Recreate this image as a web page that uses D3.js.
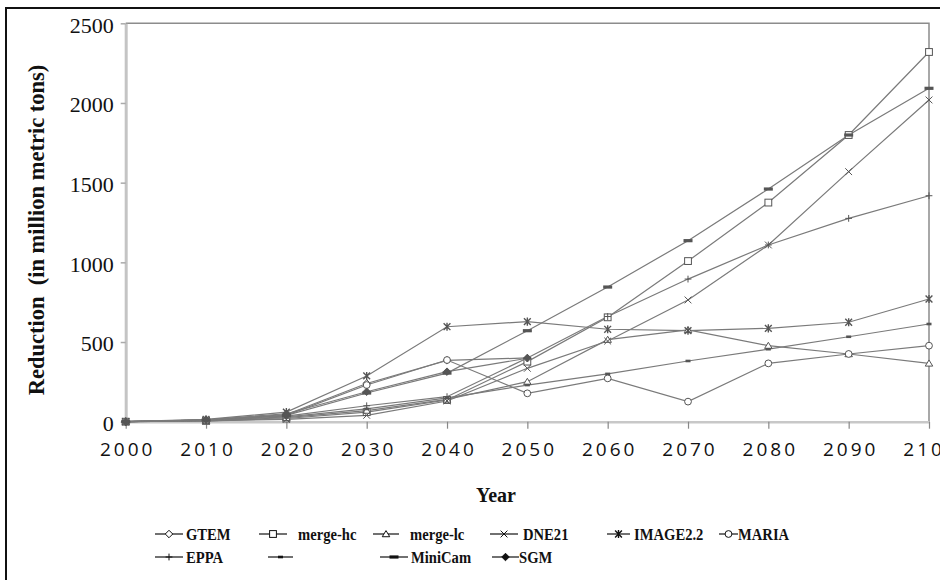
<!DOCTYPE html>
<html>
<head>
<meta charset="utf-8">
<script src="https://cdn.jsdelivr.net/npm/d3@7"></script>
<style>
  body { margin: 0; background: #fff; }
  svg { display: block; }
</style>
</head>
<body>
<div id="chart"></div>
<script>
// Reduction per model (null = no value)
var years = [2000, 2010, 2020, 2030, 2040, 2050, 2060, 2070, 2080, 2090, 2100]
var yTicks = [0, 500, 1000, 1500, 2000, 2500]

var gtem = [0, 10, 45, 240, 385, 400, null, null, null, null, null]
var mergeHc = [0, 5, 20, 60, 136, 377, 655, 1008, 1375, 1799, 2320]
var mergeLc = [0, 5, 25, 70, 140, 251, 515, 576, 477, 425, 366]
var dne21 = [0, 5, 15, 40, 130, 335, 506, 764, 1109, 1569, 2019]
var image22 = [0, 15, 60, 287, 596, 628, 580, 571, 586, 624, 770]
var maria = [0, 10, 40, 230, 387, 178, 272, 126, 366, 425, 477]
var eppa = [0, 10, 35, 100, 157, 400, 660, 895, 1109, 1276, 1418]
var unnamed = [0, 8, 30, 80, 150, 230, 300, 381, 455, 533, 613]
var miniCam = [0, 10, 40, 180, 305, 571, 845, 1136, 1460, 1799, 2092]
var sgm = [0, 12, 50, 188, 314, 398, null, null, null, null, null]

var series = [
  { name: 'GTEM', values: gtem, marker: 'diamond' },
  { name: 'merge-hc', values: mergeHc, marker: 'square' },
  { name: 'merge-lc', values: mergeLc, marker: 'triangle' },
  { name: 'DNE21', values: dne21, marker: 'cross' },
  { name: 'IMAGE2.2', values: image22, marker: 'star' },
  { name: 'MARIA', values: maria, marker: 'circle' },
  { name: 'EPPA', values: eppa, marker: 'plus' },
  { name: '', values: unnamed, marker: 'dot' },
  { name: 'MiniCam', values: miniCam, marker: 'dash' },
  { name: 'SGM', values: sgm, marker: 'filledDiamond' }
]

// legend layout: row, start of the sample line, end of the sample line, start of the label
var legendRow = [0, 0, 0, 0, 0, 0, 1, 1, 1, 1]
var legendLineX = [155, 259, 373, 490, 607, 719, 155, 268, 380, 492]
var legendLineEnd = [183, 287, 399, 518, 630, 738, 183, 293, 408, 519]
var legendTextX = [186, 298, 410, 523, 634, 738, 186, 0, 411, 519]

var width = 940
var height = 580
var plotLeft = 125.7
var plotRight = 929
var plotTop = 23.3
var plotBottom = 421.7

var svg = d3.select('#chart').append('svg')
  .attr('width', width)
  .attr('height', height)

// outer frame (only top and left edges are visible in the scan)
svg.append('path')
  .attr('d', 'M6,580V8H940')
  .attr('fill', 'none')
  .attr('stroke', '#111')
  .attr('stroke-width', 2)

var x = d3.scaleLinear().domain([2000, 2100]).range([plotLeft, plotRight])
var y = d3.scaleLinear().domain([0, 2500]).range([plotBottom, plotTop])

// plot frame top and right
svg.append('path')
  .attr('d', 'M' + x(2000) + ',' + y(2500) + 'H' + x(2100) + 'V' + y(0))
  .attr('fill', 'none')
  .attr('stroke', '#8c8c8c')
  .attr('stroke-width', 1.5)

var yAxis = svg.append('g')
  .attr('transform', 'translate(' + plotLeft + ',0)')
  .call(d3.axisLeft(y).tickValues(yTicks).tickFormat(d3.format('d')).tickSize(5).tickPadding(7).tickSizeOuter(0))
yAxis.select('.domain').attr('stroke', '#c4c4c4').attr('stroke-width', 3)
yAxis.selectAll('.tick line').attr('stroke', '#aaa').attr('stroke-width', 1.5)
yAxis.selectAll('.tick text')
  .attr('fill', '#111')
  .style('font-family', '"Liberation Serif", serif')
  .style('font-size', '22px')
  .attr('dy', '0.4em')

var xAxis = svg.append('g')
  .attr('transform', 'translate(0,' + plotBottom + ')')
  .call(d3.axisBottom(x).tickValues(years).tickFormat(d3.format('d')).tickSize(7).tickPadding(14).tickSizeOuter(0))
xAxis.select('.domain').attr('stroke', '#c8c8c8').attr('stroke-width', 2.5)
xAxis.selectAll('.tick line').attr('stroke', '#888').attr('stroke-width', 1.2)
xAxis.selectAll('.tick text')
  .attr('fill', '#111')
  .attr('dx', '1.5px')
  .style('font-family', '"Open Sans", sans-serif')
  .style('font-size', '19px')
  .style('letter-spacing', '3px')

// axis titles
svg.append('text')
  .attr('transform', 'translate(44,230) rotate(-90)')
  .attr('text-anchor', 'middle')
  .style('font-family', '"Liberation Serif", serif')
  .style('font-weight', 'bold')
  .style('font-size', '22.5px')
  .style('white-space', 'pre')
  .attr('fill', '#111')
  .text('Reduction  (in million metric tons)')

svg.append('text')
  .attr('x', 496)
  .attr('y', 502)
  .attr('text-anchor', 'middle')
  .style('font-family', '"Liberation Serif", serif')
  .style('font-weight', 'bold')
  .style('font-size', '20px')
  .attr('fill', '#111')
  .text('Year')

// marker shapes, centred on 0,0
function drawMarker (g, type, stroke) {
  var s = 3.4
  if (type === 'diamond' || type === 'filledDiamond') {
    g.append('path').attr('d', 'M0,' + -s * 1.1 + 'L' + s * 1.1 + ',0L0,' + s * 1.1 + 'L' + -s * 1.1 + ',0Z')
      .attr('fill', type === 'filledDiamond' ? stroke : '#fff').attr('stroke', stroke)
  } else if (type === 'square') {
    g.append('rect').attr('x', -s).attr('y', -s).attr('width', 2 * s).attr('height', 2 * s)
      .attr('fill', '#fff').attr('stroke', stroke)
  } else if (type === 'triangle') {
    g.append('path').attr('d', 'M0,' + -s + 'L' + s * 1.1 + ',' + s * 0.8 + 'L' + -s * 1.1 + ',' + s * 0.8 + 'Z')
      .attr('fill', '#fff').attr('stroke', stroke)
  } else if (type === 'cross') {
    g.append('path').attr('d', 'M' + -s + ',' + -s + 'L' + s + ',' + s + 'M' + -s + ',' + s + 'L' + s + ',' + -s)
      .attr('stroke', stroke).attr('fill', 'none')
  } else if (type === 'star') {
    g.append('path').attr('d', 'M' + -s + ',' + -s + 'L' + s + ',' + s + 'M' + -s + ',' + s + 'L' + s + ',' + -s + 'M0,' + -s * 1.2 + 'V' + s * 1.2)
      .attr('stroke', stroke).attr('fill', 'none').attr('stroke-width', 1.4)
  } else if (type === 'circle') {
    g.append('circle').attr('r', s).attr('fill', '#fff').attr('stroke', stroke)
  } else if (type === 'plus') {
    g.append('path').attr('d', 'M' + -s + ',0H' + s + 'M0,' + -s + 'V' + s)
      .attr('stroke', stroke).attr('fill', 'none')
  } else if (type === 'dot') {
    g.append('rect').attr('x', -2.5).attr('y', -1.3).attr('width', 5).attr('height', 2.6).attr('fill', stroke)
  } else if (type === 'dash') {
    g.append('rect').attr('x', -4.5).attr('y', -1.6).attr('width', 9).attr('height', 3.2).attr('fill', stroke)
  }
}

var lineColour = '#7a7a7a'
var markerColour = '#555'

var line = d3.line()
  .defined(function (d) { return d != null })
  .x(function (d, i) { return x(years[i]) })
  .y(function (d) { return y(d) })

var plot = svg.append('g')

series.forEach(function (s) {
  plot.append('path')
    .attr('d', line(s.values))
    .attr('fill', 'none')
    .attr('stroke', lineColour)
    .attr('stroke-width', 1.2)
})

series.forEach(function (s) {
  s.values.forEach(function (v, i) {
    if (v == null) return
    var g = plot.append('g').attr('transform', 'translate(' + x(years[i]) + ',' + y(v) + ')')
    drawMarker(g, s.marker, markerColour)
  })
})

// legend
var rowY = [534, 557]
var legend = svg.append('g')
series.forEach(function (s, i) {
  var yy = rowY[legendRow[i]]
  var x0 = legendLineX[i]
  var x1 = legendLineEnd[i]
  legend.append('line')
    .attr('x1', x0).attr('x2', x1).attr('y1', yy).attr('y2', yy)
    .attr('stroke', '#111').attr('stroke-width', 1.2)
  var g = legend.append('g').attr('transform', 'translate(' + (x0 + x1) / 2 + ',' + yy + ')')
  drawMarker(g, s.marker, '#111')
  if (s.name) {
    // the scanned legend font is condensed, so squeeze the labels horizontally
    legend.append('text')
      .attr('transform', 'translate(' + legendTextX[i] + ',' + (yy + 6) + ') scale(0.86,1)')
      .style('font-family', '"Liberation Serif", serif')
      .style('font-weight', 'bold')
      .style('font-size', '17px')
      .attr('fill', '#111')
      .text(s.name)
  }
})
</script>
</body>
</html>
